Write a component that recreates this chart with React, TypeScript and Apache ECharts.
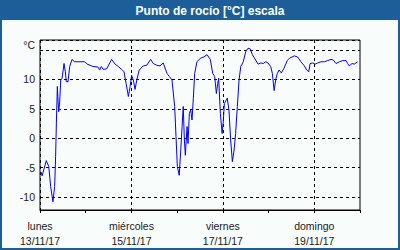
import React, { useEffect, useRef } from "react";
import * as echarts from "echarts";

const TITLE = "Punto de rocío [°C] escala";
const DAY_NAMES = ["lunes", "", "miércoles", "", "viernes", "", "domingo", ""];
const DAY_DATES = ["13/11/17", "", "15/11/17", "", "17/11/17", "", "19/11/17", ""];
const Y_UNIT = "°C";

// hours since 13/11/17 00:00
const HOURS = [
  0.5, 1.1, 3.3, 4.6, 5.6, 6.8, 7.7, 8.2, 8.6, 9.1, 9.8, 10.3, 10.9, 11.6, 12.6, 13.3, 13.8, 14.7, 15.6, 16.8,
  18.2, 23.5, 24.8, 27.8, 30.5, 31.3, 32.2, 33.2, 35.0, 37.6, 39.4, 41.1, 42.9, 44.1, 45.2, 46.4, 47.3, 48.1,
  49.0, 49.9, 50.8, 52.1, 54.2, 56.0, 58.1, 59.5, 61.3, 63.0, 64.7, 66.7, 67.9, 69.3, 70.7, 71.4, 72.1, 73.1,
  73.9, 74.6, 75.2, 75.8, 76.3, 77.2, 77.7, 78.4, 79.1, 79.8, 80.5, 81.2, 82.4, 84.2, 85.9, 87.7, 89.4, 90.7,
  91.7, 92.6, 93.3, 93.8, 94.7, 95.6, 96.2, 96.8, 98.3, 99.2, 100.1, 101.0, 101.9, 102.7, 103.6, 104.5, 105.4,
  106.7, 108.0, 109.2, 110.3, 111.5, 113.2, 114.5, 115.9, 117.2, 118.5, 119.7, 121.1, 122.0, 122.9, 123.8,
  124.6, 125.5, 126.7, 128.1, 129.8, 130.9, 133.5, 135.3, 137.0, 138.8, 140.0, 141.1, 141.8, 143.2, 144.5,
  145.8, 147.5, 149.3, 151.0, 152.8, 154.0, 155.4, 157.2, 158.9, 160.7, 161.5, 162.4, 163.8, 165.0, 166.8,
];
const DEW_POINT = [
  -5.7, -6.4, -3.8, -4.8, -8.2, -10.8, -8.2, -3.1, 2.6, 8.8, 4.5, 6.0, 9.9, 10.2, 12.7, 11.3, 9.6, 9.6, 12.2, 13.4,
  13.0, 13.0, 12.6, 12.2, 12.1, 11.6, 12.2, 11.7, 11.8, 13.4, 12.6, 12.2, 11.7, 11.3, 9.3, 7.1, 8.8, 10.7,
  9.9, 8.3, 9.9, 11.6, 12.3, 12.4, 13.4, 12.7, 12.4, 12.3, 12.8, 11.0, 10.5, 9.9, 5.4, 0.3, -4.8, -6.3,
  -2.0, 2.0, 5.4, -0.3, -2.9, 2.0, -0.9, 4.2, 4.8, 3.1, 6.8, 11.0, 13.0, 13.6, 13.8, 14.2, 13.4, 11.0,
  10.5, 7.6, 9.3, 10.2, 4.2, 0.8, 2.8, 5.9, 6.8, 4.8, -0.3, -4.0, -2.0, 0.8, 5.4, 9.9, 12.2,
  13.0, 14.7, 15.3, 15.2, 14.2, 13.3, 12.6, 12.8, 12.7, 13.0, 12.8, 12.2, 11.0, 8.1, 10.0,
  11.0, 11.6, 11.1, 11.9, 13.2, 13.6, 14.0, 13.8, 13.0, 12.3, 11.6, 11.3, 12.7, 12.8, 12.6,
  12.8, 13.0, 13.0, 13.2, 13.4, 13.3, 12.7, 13.0, 13.2, 13.2, 12.7, 12.3, 12.7, 12.6, 13.0,
];

const FRAME = "#1d5e99";
const PANEL = "#f8fcfa";
const FONT = "'Liberation Sans', Arial, sans-serif";

export default function App() {
  const ref = useRef<HTMLDivElement>(null);
  useEffect(() => {
    if (!ref.current) return;
    const chart = echarts.init(ref.current, undefined, { renderer: "svg" });
    const data = HOURS.map((h, i) => [h, DEW_POINT[i]]);
    chart.setOption({
      animation: false,
      backgroundColor: FRAME,
      graphic: [
        {
          type: "rect",
          z: -10,
          silent: true,
          shape: { x: 2, y: 20, width: 396, height: 228 },
          style: { fill: PANEL },
        },
        {
          type: "text",
          x: 210,
          y: 11,
          style: {
            text: TITLE,
            fill: "#ffffff",
            font: `bold 12px ${FONT}`,
            textAlign: "center",
            textVerticalAlign: "middle",
          },
        },
      ],
      grid: {
        left: 40,
        right: 40,
        top: 40,
        bottom: 40,
        show: true,
        borderColor: "#000",
        borderWidth: 1,
        backgroundColor: "transparent",
      },
      xAxis: {
        type: "value",
        min: 0,
        max: 168,
        interval: 24,
        axisLine: { show: true, onZero: false, lineStyle: { color: "#000", width: 1 } },
        axisTick: { show: true, length: 3, lineStyle: { color: "#000" } },
        axisLabel: {
          show: true,
          margin: 8,
          color: "#1a1a1a",
          fontFamily: FONT,
          fontSize: 10.5,
          lineHeight: 15,
          formatter: (v: number) => {
            const i = Math.round(v / 24);
            return DAY_NAMES[i] ? `${DAY_NAMES[i]}\n${DAY_DATES[i]}` : "";
          },
        },
        splitLine: {
          show: true,
          lineStyle: { color: ["#000", "rgba(0,0,0,0)"], type: [3, 3], width: 1 },
        },
      },
      yAxis: {
        type: "value",
        min: -12.2,
        max: 16.7,
        splitNumber: 5,
        axisLine: { show: false },
        axisTick: { show: false },
        axisLabel: {
          margin: 5,
          color: "#1a1a1a",
          fontFamily: FONT,
          fontSize: 10.5,
          showMinLabel: false,
          showMaxLabel: false,
          formatter: (v: number) => (v === 15 ? `{u|${Y_UNIT}}` : Number.isInteger(v) ? String(v) : ""),
          rich: {
            u: { fontFamily: FONT, fontSize: 10.5, color: "#1a1a1a", padding: [0, 0, 10, 0] },
          },
        },
        splitLine: {
          show: true,
          lineStyle: { color: "#000", type: [3, 3], width: 1 },
        },
      },
      series: [
        {
          type: "line",
          data,
          showSymbol: false,
          symbol: "none",
          lineStyle: { color: "#0000ff", width: 1 },
          z: 3,
        },
      ],
    });
    return () => chart.dispose();
  }, []);
  return (
    <div
      ref={ref}
      style={{ position: "absolute", left: 0, top: 0, width: 400, height: 250 }}
    />
  );
}
